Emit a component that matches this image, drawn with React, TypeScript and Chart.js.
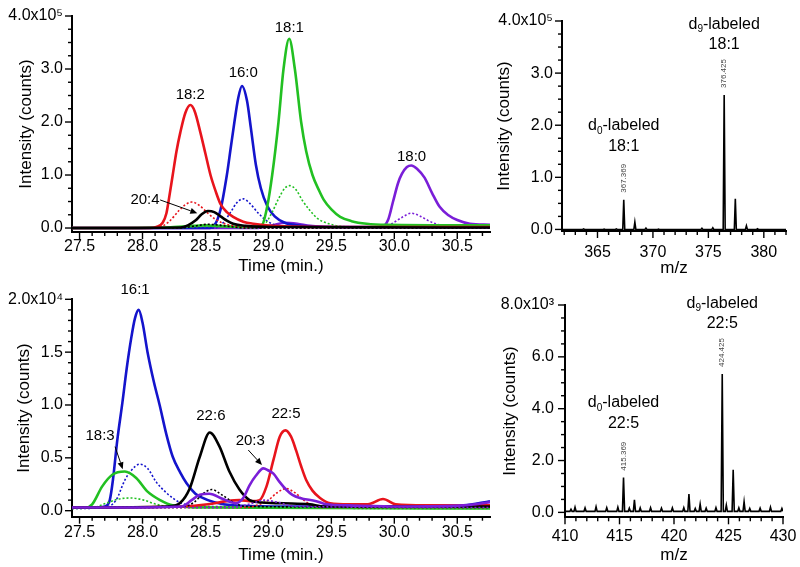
import React, { useEffect, useRef } from 'react';
import { Chart, registerables } from 'chart.js';

Chart.register(...registerables);

type Pt = [number, number];

const FONT = "'Liberation Sans', Arial, Helvetica, sans-serif";
const RED = '#e8141c';
const BLUE = '#1414cc';
const GREEN = '#22c022';
const PURPLE = '#7a1ed8';
const BLACK = '#000000';

// ================= Top-left chromatogram (×10^5 counts) =================
const TL_X_TICKS = [27.5, 28.0, 28.5, 29.0, 29.5, 30.0, 30.5];
const TL_X_LABELS = ['27.5', '28.0', '28.5', '29.0', '29.5', '30.0', '30.5'];
const TL_Y_TICKS = [0, 1, 2, 3, 4];
const TL_Y_LABELS = ['0.0', '1.0', '2.0', '3.0', '4.0x10⁵'];

const TL_18_2: Pt[] = [[27.44, 0], [28.06, 0], [28.11, 0.02], [28.16, 0.1], [28.19, 0.28], [28.21, 0.55], [28.24, 1.0], [28.27, 1.45], [28.3, 1.8], [28.34, 2.17], [28.38, 2.32], [28.415, 2.2], [28.46, 1.8], [28.5, 1.4], [28.54, 1.0], [28.58, 0.7], [28.62, 0.45], [28.67, 0.3], [28.72, 0.21], [28.8, 0.12], [28.88, 0.08], [29.03, 0.04], [29.54, 0.02], [30.76, 0.02]];
const TL_18_2_D0: Pt[] = [[27.44, 0], [28.11, 0], [28.21, 0.12], [28.29, 0.33], [28.34, 0.44], [28.39, 0.49], [28.45, 0.43], [28.51, 0.3], [28.57, 0.18], [28.63, 0.1], [28.72, 0.04], [28.82, 0.01], [30.76, 0.01]];
const TL_16_0: Pt[] = [[27.44, 0], [28.52, 0], [28.57, 0.05], [28.62, 0.35], [28.67, 1.0], [28.7, 1.5], [28.73, 2.0], [28.76, 2.45], [28.79, 2.68], [28.83, 2.4], [28.86, 1.9], [28.9, 1.2], [28.94, 0.75], [28.99, 0.42], [29.05, 0.22], [29.13, 0.1], [29.23, 0.05], [29.43, 0.02], [30.76, 0.01]];
const TL_16_0_D0: Pt[] = [[27.44, 0], [28.57, 0], [28.64, 0.1], [28.7, 0.3], [28.75, 0.48], [28.8, 0.55], [28.85, 0.47], [28.92, 0.28], [28.99, 0.13], [29.06, 0.05], [29.13, 0.01], [30.76, 0.01]];
const TL_18_1: Pt[] = [[27.44, 0], [28.2, 0.01], [28.4, 0.04], [28.5, 0.05], [28.6, 0.04], [28.8, 0.02], [28.88, 0.02], [28.95, 0.06], [28.99, 0.4], [29.03, 1.0], [29.08, 2.0], [29.12, 3.0], [29.165, 3.57], [29.21, 3.0], [29.26, 2.0], [29.3, 1.45], [29.35, 1.0], [29.4, 0.72], [29.44, 0.53], [29.5, 0.35], [29.57, 0.21], [29.66, 0.13], [29.78, 0.08], [29.94, 0.06], [30.76, 0.05]];
const TL_18_1_D0: Pt[] = [[27.44, 0], [28.3, 0.01], [28.5, 0.03], [28.7, 0.02], [28.92, 0], [28.98, 0.1], [29.03, 0.3], [29.08, 0.55], [29.13, 0.75], [29.17, 0.8], [29.22, 0.72], [29.27, 0.52], [29.33, 0.33], [29.39, 0.18], [29.48, 0.08], [29.58, 0.03], [29.73, 0.01], [30.76, 0.01]];
const TL_18_0: Pt[] = [[27.44, 0], [28.9, 0], [29.03, 0.05], [29.13, 0.1], [29.23, 0.08], [29.33, 0.04], [29.54, 0.02], [29.9, 0.02], [29.95, 0.15], [29.99, 0.5], [30.03, 0.85], [30.06, 1.02], [30.1, 1.15], [30.135, 1.18], [30.18, 1.12], [30.24, 0.95], [30.3, 0.66], [30.36, 0.4], [30.43, 0.24], [30.5, 0.15], [30.6, 0.08], [30.76, 0.06]];
const TL_18_0_D0: Pt[] = [[27.44, 0], [29.9, 0], [29.98, 0.08], [30.06, 0.2], [30.135, 0.28], [30.2, 0.23], [30.27, 0.14], [30.34, 0.07], [30.43, 0.03], [30.55, 0.02], [30.76, 0.02]];
const TL_20_4: Pt[] = [[27.44, 0], [28.3, 0.01], [28.36, 0.05], [28.42, 0.14], [28.47, 0.26], [28.52, 0.32], [28.57, 0.3], [28.62, 0.22], [28.67, 0.14], [28.72, 0.08], [28.82, 0.04], [29.03, 0.02], [30.76, 0.01]];
const TL_20_4_D0: Pt[] = [[27.44, 0], [28.3, 0], [28.42, 0.04], [28.52, 0.07], [28.62, 0.05], [28.72, 0.02], [28.82, 0], [30.76, 0]];

const TL_TEXT = [
  { t: '18:2', x: 28.379, y: 2.51 },
  { t: '16:0', x: 28.8, y: 2.92 },
  { t: '18:1', x: 29.166, y: 3.77 },
  { t: '18:0', x: 30.137, y: 1.34 },
  { t: '20:4', x: 28.02, y: 0.53 },
];
const TL_ARROWS = [{ from: [28.14, 0.53] as Pt, to: [28.435, 0.28] as Pt }];

// ================= Top-right mass spectrum (×10^5 counts) =================
const TR_X_TICKS = [365, 370, 375, 380];
const TR_X_LABELS = ['365', '370', '375', '380'];
const TR_Y_TICKS = [0, 1, 2, 3, 4];
const TR_Y_LABELS = ['0.0', '1.0', '2.0', '3.0', '4.0x10⁵'];
const TR_BASE = 0;
const TR_PEAKS: Pt[] = [[363.75, 0.01], [365.6, 0.008], [366.7, 0.01], [367.369, 0.57], [368.37, 0.14], [369.37, 0.025], [370.5, 0.006], [374.42, 0.022], [375.4, 0.032], [376.425, 2.58], [377.43, 0.59], [378.43, 0.07], [379.43, 0.012]];
const TR_MZ_LABELS = [367.369, 376.425];
const TR_TEXT = [
  { t: 'd_9-labeled', x: 376.425, y: 3.94 },
  { t: '18:1', x: 376.425, y: 3.54 },
  { t: 'd_0-labeled', x: 367.369, y: 1.985 },
  { t: '18:1', x: 367.369, y: 1.59 },
];

// ================= Bottom-left chromatogram (×10^4 counts) =================
const BL_X_TICKS = TL_X_TICKS;
const BL_X_LABELS = TL_X_LABELS;
const BL_Y_TICKS = [0, 0.5, 1.0, 1.5, 2.0];
const BL_Y_LABELS = ['0.0', '0.5', '1.0', '1.5', '2.0x10⁴'];

const BL_16_1: Pt[] = [[27.44, 0.03], [27.6, 0.03], [27.7, 0.04], [27.74, 0.1], [27.765, 0.29], [27.8, 0.67], [27.84, 1.02], [27.875, 1.35], [27.91, 1.63], [27.94, 1.82], [27.97, 1.9], [28.0, 1.78], [28.04, 1.5], [28.09, 1.22], [28.136, 1.0], [28.19, 0.72], [28.24, 0.51], [28.3, 0.36], [28.35, 0.26], [28.42, 0.16], [28.46, 0.13], [28.57, 0.08], [28.72, 0.05], [29.03, 0.04], [30.05, 0.04], [30.55, 0.05], [30.76, 0.09]];
const BL_16_1_D0: Pt[] = [[27.44, 0.02], [27.7, 0.03], [27.79, 0.1], [27.86, 0.29], [27.91, 0.38], [27.98, 0.44], [28.04, 0.4], [28.11, 0.27], [28.18, 0.18], [28.24, 0.12], [28.31, 0.07], [28.52, 0.04], [30.76, 0.03]];
const BL_18_3: Pt[] = [[27.44, 0.03], [27.55, 0.03], [27.6, 0.06], [27.68, 0.23], [27.76, 0.34], [27.86, 0.37], [27.95, 0.31], [28.04, 0.18], [28.14, 0.1], [28.24, 0.05], [28.52, 0.03], [30.76, 0.02]];
const BL_18_3_D0: Pt[] = [[27.44, 0.02], [27.61, 0.03], [27.71, 0.07], [27.81, 0.11], [27.91, 0.12], [28.01, 0.1], [28.11, 0.06], [28.21, 0.04], [30.76, 0.02]];
const BL_22_6: Pt[] = [[27.44, 0.03], [28.2, 0.04], [28.3, 0.075], [28.375, 0.21], [28.455, 0.51], [28.534, 0.74], [28.61, 0.61], [28.69, 0.37], [28.77, 0.2], [28.85, 0.1], [28.92, 0.08], [29.12, 0.07], [29.33, 0.06], [29.43, 0.04], [30.76, 0.04]];
const BL_22_6_D0: Pt[] = [[27.44, 0.03], [28.31, 0.03], [28.41, 0.08], [28.48, 0.16], [28.55, 0.2], [28.63, 0.15], [28.72, 0.08], [28.82, 0.04], [30.76, 0.03]];
const BL_22_5: Pt[] = [[27.44, 0.03], [28.31, 0.04], [28.52, 0.06], [28.67, 0.09], [28.77, 0.1], [28.87, 0.09], [28.93, 0.1], [28.985, 0.23], [29.04, 0.48], [29.09, 0.7], [29.136, 0.76], [29.18, 0.7], [29.22, 0.57], [29.26, 0.42], [29.3, 0.29], [29.35, 0.19], [29.41, 0.12], [29.49, 0.07], [29.64, 0.06], [29.79, 0.06], [29.91, 0.11], [30.01, 0.06], [30.25, 0.05], [30.76, 0.05]];
const BL_22_5_D0: Pt[] = [[27.44, 0.03], [28.83, 0.03], [28.93, 0.06], [29.0, 0.1], [29.07, 0.17], [29.14, 0.21], [29.21, 0.17], [29.28, 0.1], [29.35, 0.05], [29.43, 0.03], [30.76, 0.03]];
const BL_20_3: Pt[] = [[27.44, 0.03], [27.7, 0.03], [28.31, 0.04], [28.39, 0.1], [28.455, 0.15], [28.53, 0.16], [28.64, 0.11], [28.74, 0.07], [28.8, 0.12], [28.85, 0.24], [28.9, 0.33], [28.96, 0.4], [29.0, 0.38], [29.04, 0.35], [29.09, 0.27], [29.14, 0.2], [29.19, 0.15], [29.25, 0.12], [29.38, 0.09], [29.46, 0.06], [29.64, 0.05], [30.05, 0.04], [30.55, 0.05], [30.76, 0.08]];
const BL_20_3_D0: Pt[] = [[27.44, 0.03], [28.72, 0.03], [28.87, 0.07], [28.97, 0.1], [29.07, 0.08], [29.22, 0.04], [30.76, 0.03]];

const BL_TEXT = [
  { t: '16:1', x: 27.941, y: 2.09 },
  { t: '18:3', x: 27.663, y: 0.71 },
  { t: '22:6', x: 28.543, y: 0.896 },
  { t: '22:5', x: 29.14, y: 0.915 },
  { t: '20:3', x: 28.856, y: 0.659 },
];
const BL_ARROWS = [
  { from: [27.782, 0.606] as Pt, to: [27.843, 0.392] as Pt },
  { from: [28.84, 0.574] as Pt, to: [28.949, 0.432] as Pt },
];

// ================= Bottom-right mass spectrum (×10^3 counts) =================
const BR_X_TICKS = [410, 415, 420, 425, 430];
const BR_X_LABELS = ['410', '415', '420', '425', '430'];
const BR_Y_TICKS = [0, 2, 4, 6, 8];
const BR_Y_LABELS = ['0.0', '2.0', '4.0', '6.0', '8.0x10³'];
const BR_BASE = 0.04;
const BR_PEAKS: Pt[] = [[410.55, 0.12], [410.92, 0.2], [411.84, 0.17], [412.85, 0.22], [413.83, 0.18], [414.85, 0.2], [415.369, 1.34], [415.9, 0.16], [416.37, 0.48], [416.9, 0.17], [417.85, 0.18], [418.85, 0.16], [419.85, 0.17], [420.9, 0.18], [421.37, 0.71], [421.95, 0.15], [422.4, 0.32], [422.95, 0.16], [423.85, 0.18], [424.425, 5.34], [424.8, 0.28], [425.43, 1.64], [425.95, 0.17], [426.43, 0.41], [426.95, 0.15], [427.9, 0.16], [428.85, 0.2], [429.9, 0.15]];
const BR_MZ_LABELS = [415.369, 424.425];
const BR_TEXT = [
  { t: 'd_9-labeled', x: 424.425, y: 8.07 },
  { t: '22:5', x: 424.425, y: 7.3 },
  { t: 'd_0-labeled', x: 415.369, y: 4.23 },
  { t: '22:5', x: 415.369, y: 3.44 },
];

// ================= helpers =================
interface TextItem { t: string; x: number; y: number }
interface Arrow { from: Pt; to: Pt }
interface PanelSpec {
  area: { left: number; right: number; top: number; bottom: number };
  yTitleX: number; xTitleY: number; xLabelY: number; yLabelGap: number;
  xMin: number; xMax: number; yMin: number; yMax: number;
  xTicks: number[]; xLabels: string[]; xMinor: number;
  yTicks: number[]; yLabels: string[]; yMinor: number;
  xTitle: string; yTitle: string;
  datasets: any[];
  texts: TextItem[]; textSize: number;
  arrows: Arrow[];
  mzLabels: { mz: number; h: number }[];
}

function chrom(pts: Pt[], color: string, dotted = false) {
  return {
    data: pts.map(([x, y]) => ({ x, y })),
    borderColor: color,
    borderWidth: dotted ? 1.6 : 2.6,
    borderDash: dotted ? [2, 2] : [],
    pointRadius: 0,
    fill: false,
    cubicInterpolationMode: 'monotone',
  };
}

function spectrum(peaks: Pt[], base: number, lo: number, hi: number, hw: number) {
  const sorted = [...peaks].sort((a, b) => a[0] - b[0]);
  const pts: { x: number; y: number }[] = [{ x: lo, y: base }];
  for (const [m, h] of sorted) {
    pts.push({ x: m - hw, y: base }, { x: m, y: h }, { x: m + hw, y: base });
  }
  pts.push({ x: hi, y: base });
  return {
    data: pts,
    borderColor: BLACK,
    borderWidth: 1.6,
    pointRadius: 0,
    fill: false,
    tension: 0,
  };
}

function peakHeight(peaks: Pt[], mz: number) {
  let best = peaks[0];
  for (const p of peaks) if (Math.abs(p[0] - mz) < Math.abs(best[0] - mz)) best = p;
  return best[1];
}

function drawRich(ctx: CanvasRenderingContext2D, text: string, cx: number, cy: number, size: number) {
  const runs: { t: string; sub: boolean }[] = [];
  let buf = '';
  for (let i = 0; i < text.length; i++) {
    if (text[i] === '_' && i + 1 < text.length) {
      if (buf) runs.push({ t: buf, sub: false });
      buf = '';
      runs.push({ t: text[i + 1], sub: true });
      i++;
    } else buf += text[i];
  }
  if (buf) runs.push({ t: buf, sub: false });
  const subSize = Math.round(size * 0.62);
  let total = 0;
  const widths = runs.map((r) => {
    ctx.font = `${r.sub ? subSize : size}px ${FONT}`;
    const w = ctx.measureText(r.t).width;
    total += w;
    return w;
  });
  let x = cx - total / 2;
  ctx.textAlign = 'left';
  ctx.textBaseline = 'middle';
  runs.forEach((r, i) => {
    ctx.font = `${r.sub ? subSize : size}px ${FONT}`;
    ctx.fillText(r.t, x, r.sub ? cy + size * 0.32 : cy);
    x += widths[i];
  });
}

function decor(s: PanelSpec) {
  return {
    id: 'decor',
    afterDraw(chart: any) {
      const ctx: CanvasRenderingContext2D = chart.ctx;
      const ca = chart.chartArea;
      const xs = chart.scales.x;
      const ys = chart.scales.y;
      ctx.save();
      ctx.strokeStyle = '#000';
      ctx.fillStyle = '#000';
      ctx.lineWidth = 1.4;
      ctx.setLineDash([]);
      // x tick marks
      const nx0 = Math.ceil(s.xMin / s.xMinor - 1e-6);
      const nx1 = Math.floor(s.xMax / s.xMinor + 1e-6);
      for (let k = nx0; k <= nx1; k++) {
        const v = k * s.xMinor;
        const major = s.xTicks.some((t) => Math.abs(t - v) < s.xMinor / 10);
        const px = xs.getPixelForValue(v);
        ctx.beginPath();
        ctx.moveTo(px, ca.bottom);
        ctx.lineTo(px, ca.bottom + (major ? 7 : 4));
        ctx.stroke();
      }
      // y tick marks
      const ny0 = Math.ceil(Math.max(0, s.yMin) / s.yMinor - 1e-6);
      const ny1 = Math.floor(s.yMax / s.yMinor + 1e-6);
      for (let k = ny0; k <= ny1; k++) {
        const v = k * s.yMinor;
        const major = s.yTicks.some((t) => Math.abs(t - v) < s.yMinor / 10);
        const py = ys.getPixelForValue(v);
        ctx.beginPath();
        ctx.moveTo(ca.left, py);
        ctx.lineTo(ca.left - (major ? 7 : 4), py);
        ctx.stroke();
      }
      // texts
      for (const it of s.texts) {
        drawRich(ctx, it.t, xs.getPixelForValue(it.x), ys.getPixelForValue(it.y), s.textSize);
      }
      // arrows
      ctx.lineWidth = 1;
      for (const a of s.arrows) {
        const x1 = xs.getPixelForValue(a.from[0]);
        const y1 = ys.getPixelForValue(a.from[1]);
        const x2 = xs.getPixelForValue(a.to[0]);
        const y2 = ys.getPixelForValue(a.to[1]);
        const ang = Math.atan2(y2 - y1, x2 - x1);
        const hl = 7;
        const hw = 3;
        const bx = x2 - hl * Math.cos(ang);
        const by = y2 - hl * Math.sin(ang);
        ctx.beginPath();
        ctx.moveTo(x1, y1);
        ctx.lineTo(bx, by);
        ctx.stroke();
        ctx.beginPath();
        ctx.moveTo(x2, y2);
        ctx.lineTo(bx + hw * Math.sin(ang), by - hw * Math.cos(ang));
        ctx.lineTo(bx - hw * Math.sin(ang), by + hw * Math.cos(ang));
        ctx.closePath();
        ctx.fill();
      }
      // rotated m/z labels
      ctx.fillStyle = '#444';
      ctx.font = `8px ${FONT}`;
      for (const m of s.mzLabels) {
        const px = xs.getPixelForValue(m.mz);
        const py = ys.getPixelForValue(m.h);
        ctx.save();
        ctx.translate(px, py - 7);
        ctx.rotate(-Math.PI / 2);
        ctx.textAlign = 'left';
        ctx.textBaseline = 'middle';
        ctx.fillText(m.mz.toFixed(3), 0, 0);
        ctx.restore();
      }
      ctx.restore();
    },
  };
}

function buildConfig(s: PanelSpec): any {
  const padLeft = Math.max(0, s.yTitleX - 10.2 - 14);
  const titlePadTop = s.yTitleX - 10.2 - padLeft;
  const W = s.area.left - padLeft;
  const xBottom = s.xTitleY + 10.2;
  const H = xBottom - s.area.bottom;
  const tickFont = { family: FONT, size: 16 };
  const titleFont = { family: FONT, size: 17 };
  const lab = (ticks: number[], labels: string[]) => (v: any) => {
    const i = ticks.findIndex((t) => Math.abs(t - Number(v)) < 1e-7);
    return i >= 0 ? labels[i] : '';
  };
  const zeroPad = (sc: any) => {
    sc.paddingLeft = 0;
    sc.paddingRight = 0;
    sc.paddingTop = 0;
    sc.paddingBottom = 0;
  };
  return {
    type: 'line',
    data: { datasets: s.datasets },
    options: {
      animation: false,
      responsive: false,
      devicePixelRatio: 1,
      events: [],
      layout: { padding: { left: padLeft, top: s.area.top, right: 800 - s.area.right, bottom: 567 - xBottom } },
      plugins: { legend: { display: false }, tooltip: { enabled: false }, title: { display: false } },
      scales: {
        x: {
          type: 'linear',
          position: 'bottom',
          min: s.xMin,
          max: s.xMax,
          grid: { display: false, drawTicks: false },
          border: { display: true, color: '#000', width: 2 },
          ticks: {
            font: tickFont,
            color: '#000',
            padding: s.xLabelY - s.area.bottom - 9.6,
            autoSkip: false,
            maxRotation: 0,
            minRotation: 0,
            callback: lab(s.xTicks, s.xLabels),
          },
          afterBuildTicks: (sc: any) => {
            sc.ticks = s.xTicks.map((v) => ({ value: v }));
          },
          afterFit: (sc: any) => {
            sc.height = H;
            zeroPad(sc);
          },
          title: { display: true, text: s.xTitle, font: titleFont, color: '#000', padding: { top: 0, bottom: 0 } },
        },
        y: {
          type: 'linear',
          position: 'left',
          min: s.yMin,
          max: s.yMax,
          grid: { display: false, drawTicks: false },
          border: { display: true, color: '#000', width: 2 },
          ticks: {
            font: tickFont,
            color: '#000',
            padding: s.yLabelGap,
            autoSkip: false,
            callback: lab(s.yTicks, s.yLabels),
          },
          afterBuildTicks: (sc: any) => {
            sc.ticks = s.yTicks.map((v) => ({ value: v }));
          },
          afterFit: (sc: any) => {
            sc.width = W;
            zeroPad(sc);
          },
          title: { display: true, text: s.yTitle, font: titleFont, color: '#000', padding: { top: titlePadTop, bottom: 0 } },
        },
      },
    },
    plugins: [decor(s)],
  };
}

const SPECS: PanelSpec[] = [
  {
    area: { left: 72, right: 490, top: 16, bottom: 232 },
    yTitleX: 26, xTitleY: 266, xLabelY: 247, yLabelGap: 9,
    xMin: 27.44, xMax: 30.76, yMin: -0.075, yMax: 4.0,
    xTicks: TL_X_TICKS, xLabels: TL_X_LABELS, xMinor: 0.1,
    yTicks: TL_Y_TICKS, yLabels: TL_Y_LABELS, yMinor: 0.25,
    xTitle: 'Time (min.)', yTitle: 'Intensity (counts)',
    datasets: [
      chrom(TL_20_4, BLACK),
      chrom(TL_20_4_D0, BLACK, true),
      chrom(TL_18_2, RED),
      chrom(TL_18_2_D0, RED, true),
      chrom(TL_18_1, GREEN),
      chrom(TL_18_1_D0, GREEN, true),
      chrom(TL_16_0, BLUE),
      chrom(TL_16_0_D0, BLUE, true),
      chrom(TL_18_0, PURPLE),
      chrom(TL_18_0_D0, PURPLE, true),
    ],
    texts: TL_TEXT, textSize: 15, arrows: TL_ARROWS, mzLabels: [],
  },
  {
    area: { left: 562, right: 786, top: 21, bottom: 231 },
    yTitleX: 504.5, xTitleY: 268, xLabelY: 253, yLabelGap: 9,
    xMin: 361.8, xMax: 382, yMin: -0.03, yMax: 4.0,
    xTicks: TR_X_TICKS, xLabels: TR_X_LABELS, xMinor: 1,
    yTicks: TR_Y_TICKS, yLabels: TR_Y_LABELS, yMinor: 0.25,
    xTitle: 'm/z', yTitle: 'Intensity (counts)',
    datasets: [spectrum(TR_PEAKS, TR_BASE, 361.8, 382, 0.09)],
    texts: TR_TEXT, textSize: 16, arrows: [],
    mzLabels: TR_MZ_LABELS.map((mz) => ({ mz, h: peakHeight(TR_PEAKS, mz) })),
  },
  {
    area: { left: 72, right: 490, top: 299.3, bottom: 516.7 },
    yTitleX: 24.5, xTitleY: 555, xLabelY: 533, yLabelGap: 9,
    xMin: 27.44, xMax: 30.76, yMin: -0.057, yMax: 2.0,
    xTicks: BL_X_TICKS, xLabels: BL_X_LABELS, xMinor: 0.1,
    yTicks: BL_Y_TICKS, yLabels: BL_Y_LABELS, yMinor: 0.1,
    xTitle: 'Time (min.)', yTitle: 'Intensity (counts)',
    datasets: [
      chrom(BL_20_3, PURPLE),
      chrom(BL_20_3_D0, PURPLE, true),
      chrom(BL_22_6, BLACK),
      chrom(BL_22_6_D0, BLACK, true),
      chrom(BL_22_5, RED),
      chrom(BL_22_5_D0, RED, true),
      chrom(BL_18_3, GREEN),
      chrom(BL_18_3_D0, GREEN, true),
      chrom(BL_16_1, BLUE),
      chrom(BL_16_1_D0, BLUE, true),
    ],
    texts: BL_TEXT, textSize: 15, arrows: BL_ARROWS, mzLabels: [],
  },
  {
    area: { left: 565, right: 783, top: 305, bottom: 517.3 },
    yTitleX: 510, xTitleY: 555, xLabelY: 536.7, yLabelGap: 11,
    xMin: 410, xMax: 430, yMin: -0.19, yMax: 8.0,
    xTicks: BR_X_TICKS, xLabels: BR_X_LABELS, xMinor: 1,
    yTicks: BR_Y_TICKS, yLabels: BR_Y_LABELS, yMinor: 0.5,
    xTitle: 'm/z', yTitle: 'Intensity (counts)',
    datasets: [spectrum(BR_PEAKS, BR_BASE, 410, 430, 0.1)],
    texts: BR_TEXT, textSize: 16, arrows: [],
    mzLabels: BR_MZ_LABELS.map((mz) => ({ mz, h: peakHeight(BR_PEAKS, mz) })),
  },
];

function ChartPanel({ spec }: { spec: PanelSpec }) {
  const ref = useRef<HTMLCanvasElement>(null);
  useEffect(() => {
    const chart = new Chart(ref.current as HTMLCanvasElement, buildConfig(spec));
    return () => chart.destroy();
  }, [spec]);
  return (
    <canvas
      ref={ref}
      width={800}
      height={567}
      style={{ position: 'absolute', left: 0, top: 0, width: 800, height: 567 }}
    />
  );
}

if (typeof document !== 'undefined') {
  document.body.style.margin = '0';
}

export default function App() {
  useEffect(() => {
    document.body.style.margin = '0';
    document.body.style.background = '#fff';
  }, []);
  return (
    <div style={{ position: 'relative', width: 800, height: 567, background: '#fff', overflow: 'hidden' }}>
      {SPECS.map((s, i) => (
        <ChartPanel key={i} spec={s} />
      ))}
    </div>
  );
}
